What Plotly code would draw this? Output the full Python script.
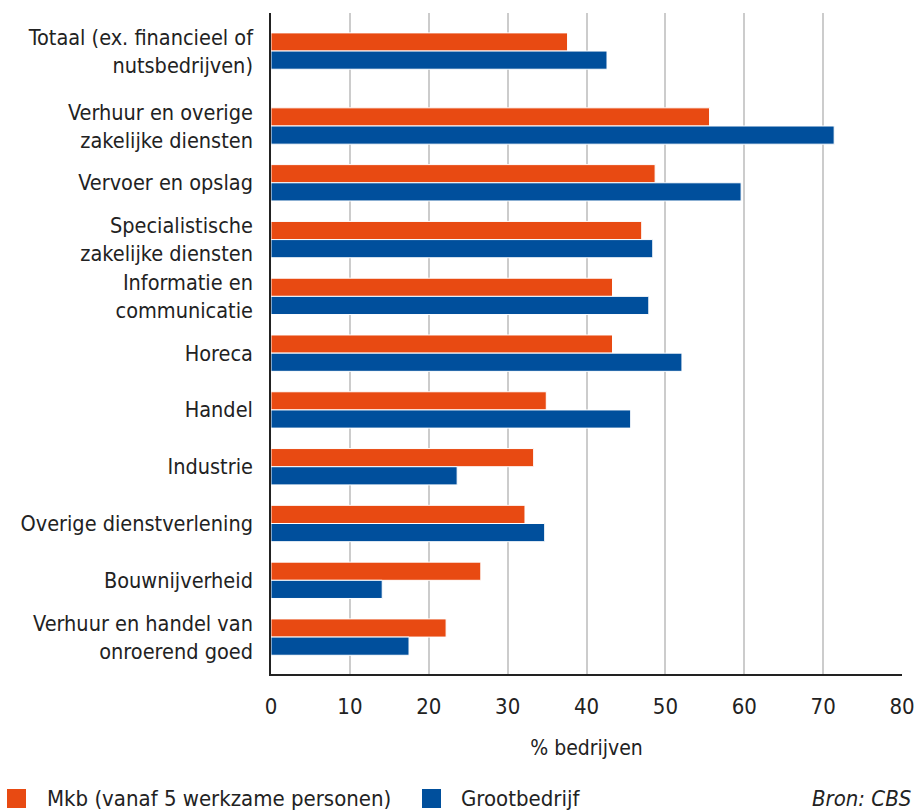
import plotly.graph_objects as go

categories = [
    "Totaal (ex. financieel of<br>nutsbedrijven)",
    "Verhuur en overige<br>zakelijke diensten",
    "Vervoer en opslag",
    "Specialistische<br>zakelijke diensten",
    "Informatie en<br>communicatie",
    "Horeca",
    "Handel",
    "Industrie",
    "Overige dienstverlening",
    "Bouwnijverheid",
    "Verhuur en handel van<br>onroerend goed",
]
mkb = [37.6, 55.6, 48.7, 47.0, 43.3, 43.3, 34.9, 33.3, 32.2, 26.6, 22.2]
groot = [42.6, 71.4, 59.6, 48.4, 47.9, 52.1, 45.6, 23.6, 34.7, 14.1, 17.5]
x_ticks = [0, 10, 20, 30, 40, 50, 60, 70, 80]

series_names = ["Mkb (vanaf 5 werkzame personen)", "Grootbedrijf"]
colors = ["#E84A12", "#004F9C"]

# extra gap after the total row
pos = [0 if i == 0 else i + 0.32 for i in range(len(categories))]

FONT = "DejaVu Sans Condensed, sans-serif"
W, H = 917, 811
ML, MR, MT = 271, 15, 13
MB = H - 674
PW, PH = W - ML - MR, H - MT - MB


def px_x(px):
    return (px - ML) / PW


def px_y(py):
    return (H - MB - py) / PH


fig = go.Figure()
for name, vals, col in zip(series_names, [mkb, groot], colors):
    fig.add_trace(go.Bar(
        y=pos, x=vals, orientation="h", name=name,
        marker=dict(color=col, line=dict(color="white", width=1)),
    ))

# manual legend (squares + labels) to match the reference layout
legend_items = [(7, 45), (422, 459)]
shapes = []
annotations = []
for (sq_x, tx_x), name, col in zip(legend_items, series_names, colors):
    shapes.append(dict(
        type="rect", xref="paper", yref="paper",
        x0=px_x(sq_x), x1=px_x(sq_x + 19), y0=px_y(808), y1=px_y(789),
        fillcolor=col, line=dict(width=0),
    ))
    annotations.append(dict(
        text=name, xref="paper", yref="paper", x=px_x(tx_x), y=px_y(798),
        xanchor="left", yanchor="middle", showarrow=False,
        font=dict(size=22, color="#222222"),
    ))
annotations.append(dict(
    text="<i>Bron: CBS</i>", xref="paper", yref="paper",
    x=px_x(913), y=px_y(798), xanchor="right", yanchor="middle",
    showarrow=False, font=dict(size=22, color="#222222"),
))

fig.update_layout(
    width=W, height=H,
    paper_bgcolor="white", plot_bgcolor="white",
    barmode="group", bargap=0.36, bargroupgap=0,
    margin=dict(l=ML, r=MR, t=MT, b=MB, autoexpand=False),
    font=dict(family=FONT, size=21, color="#222222"),
    showlegend=False,
    shapes=shapes,
    annotations=annotations,
)
fig.update_xaxes(
    range=[0, 80], tickvals=x_ticks, showgrid=True, gridcolor="#cccccc",
    gridwidth=2, showline=True, linecolor="#222222", linewidth=1.5,
    zeroline=False, ticks="", tickfont=dict(size=22), automargin=False,
    ticklabelstandoff=12,
    title=dict(text="% bedrijven", standoff=22, font=dict(size=21)),
)
fig.update_yaxes(
    range=[10.32 + 0.65, -0.67], tickvals=pos, ticktext=categories,
    showgrid=False, showline=True, linecolor="#222222", linewidth=1.5,
    zeroline=False, ticks="", ticklabelstandoff=12, automargin=False,
    tickfont=dict(size=21.5),
)

fig.write_html(
    "out.html",
    config={"displayModeBar": False},
    post_script="document.body.style.margin='0';document.body.style.overflow='hidden';",
)
